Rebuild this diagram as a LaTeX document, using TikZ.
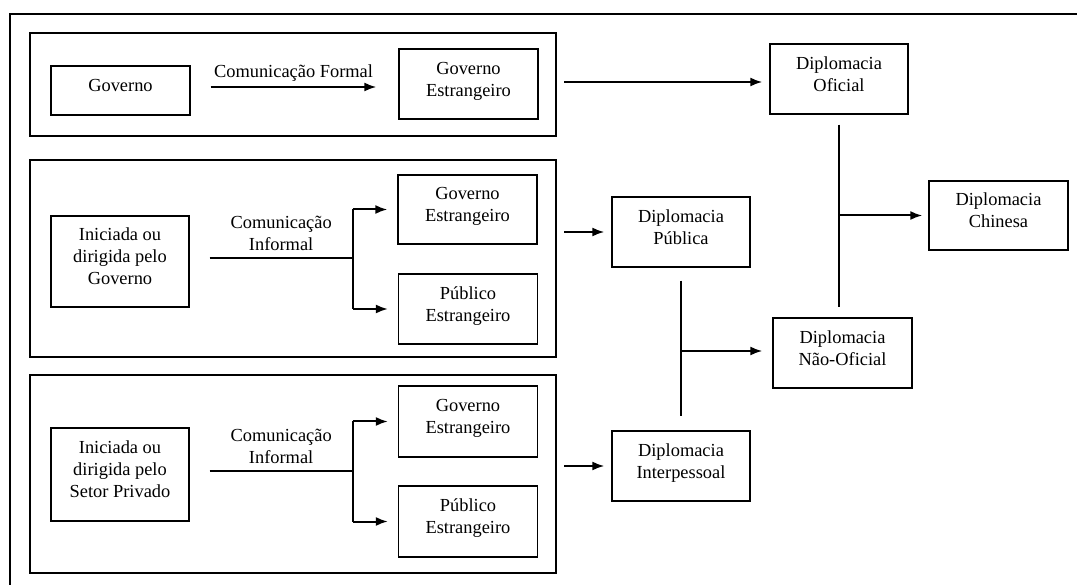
\documentclass[tikz,border=0pt]{standalone}
\usepackage{fontspec}
\setmainfont{Liberation Serif}
\usepackage{tikz}
\usetikzlibrary{calc,arrows.meta,positioning}
\tikzstyle{caixa}=[draw,line width=1.3pt,rectangle,minimum width=139pt,minimum height=70pt,inner sep=0pt,text depth=10pt,align=center,font=\fontsize{18.4}{22}\selectfont]

\begin{document}
\begin{tikzpicture}[
  x=1pt,y=-1pt,
  line width=2pt,
  >={Latex[length=12pt,width=9pt]},
  grupo/.style={draw,line width=2.8pt,rectangle,inner sep=0pt},
  rotulo/.style={align=center,inner sep=0pt,font=\fontsize{18.4}{22}\selectfont}
]
\useasboundingbox (0,0) rectangle (1077,585);
\draw[line width=2.4pt] (10,590) |- (1082,14);

% os tres grupos
\node [grupo, minimum width=526pt, minimum height=103pt] (g1) at (293,84.5) {};
\node [grupo, minimum width=526pt, minimum height=197pt] (g2) at (293,258.5) {};
\node [grupo, minimum width=526pt, minimum height=198pt] (g3) at (293,474) {};

% primeira linha
\node [caixa, minimum height=49pt] (gov) at (120.5,90.5) {Governo};
\node [caixa] (govE1) at (468.5,84) {Governo\\Estrangeiro};
\node [caixa, minimum width=138pt] (ofi) at (839,79) {Diplomacia\\Oficial};
\node [caixa, minimum height=69pt] (chi) at (998.5,215.5) {Diplomacia\\Chinesa};

% segunda linha
\node [caixa, minimum width=138pt, minimum height=91pt] (ini1) at (120,261.5) {Iniciada ou\\dirigida pelo\\Governo};
\node [caixa, minimum height=69pt] (govE2) at (467.5,209.5) {Governo\\Estrangeiro};
\node [caixa] (pubE2) at (468,309) {Público\\Estrangeiro};
\node [caixa, minimum width=138pt] (pub) at (681,232) {Diplomacia\\Pública};
\node [caixa] (nof) at (842.5,353) {Diplomacia\\Não-Oficial};

% terceira linha
\node [caixa, minimum width=138pt, minimum height=93pt] (ini2) at (120,474.5) {Iniciada ou\\dirigida pelo\\Setor Privado};
\node [caixa, minimum height=71pt] (govE3) at (468,421.5) {Governo\\Estrangeiro};
\node [caixa, minimum height=71pt] (pubE3) at (468,521.5) {Público\\Estrangeiro};
\node [caixa, minimum width=138pt] (inter) at (681,466) {Diplomacia\\Interpessoal};

% comunicacao formal
\draw[->] ([xshift=20pt,yshift=3.5pt]gov.east) -- ([xshift=-22pt,yshift=3.5pt]gov.east -| govE1.west)
  node [rotulo, midway, above=5pt] (cf) {Comunicação Formal};

% comunicacao informal (governo)
\draw ([xshift=20pt,yshift=3.5pt]ini1.east) -- ++(143,0) coordinate (r1)
  node [rotulo, midway, above=6pt] (ci1) {Comunicação\\Informal};
\draw (r1 |- govE2.west) -- (r1 |- pubE2.west);
\draw[->] (r1 |- govE2.west) -- ([xshift=-10pt]govE2.west);
\draw[->] (r1 |- pubE2.west) -- ([xshift=-10pt]pubE2.west);

% comunicacao informal (setor privado)
\draw ([xshift=20pt,yshift=3.5pt]ini2.east) -- ++(143,0) coordinate (r2)
  node [rotulo, midway, above=6pt] (ci2) {Comunicação\\Informal};
\draw (r2 |- govE3.west) -- (r2 |- pubE3.west);
\draw[->] (r2 |- govE3.west) -- ([xshift=-10pt]govE3.west);
\draw[->] (r2 |- pubE3.west) -- ([xshift=-10pt]pubE3.west);

% dos grupos para as diplomacias
\draw[->] ([xshift=7pt,yshift=-3pt]g1.east |- ofi.west) -- ([xshift=-7pt,yshift=-3pt]ofi.west);
\draw[->] ([xshift=7pt]g2.east |- pub.west) -- ([xshift=-7pt]pub.west);
\draw[->] ([xshift=7pt]g3.east |- inter.west) -- ([xshift=-7pt]inter.west);

% publica + interpessoal -> nao-oficial
\draw ([yshift=-13pt]pub.south) -- coordinate (m1) ([yshift=14pt]inter.north);
\draw[->] ([yshift=-2.5pt]m1) -- ([xshift=-10pt,yshift=-2.5pt]m1 -| nof.west);

% oficial + nao-oficial -> chinesa
\draw ([yshift=-10pt]ofi.south) -- ([yshift=10pt]ofi.south |- nof.north);
\draw[->] (ofi.south |- chi.west) -- ([xshift=-6pt]chi.west);

\end{tikzpicture}
\end{document}
